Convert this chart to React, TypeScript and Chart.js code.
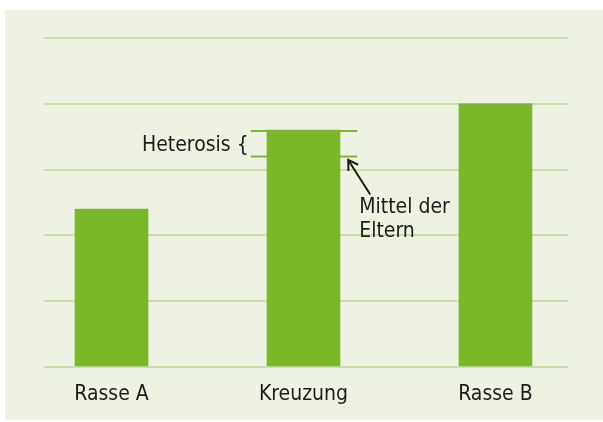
import React, { useEffect, useRef } from "react";
import { Chart, registerables } from "chart.js";

Chart.register(...registerables);

const categories = ["Rasse A", "Kreuzung", "Rasse B"];
const values = [2.4, 3.6, 4.0];
const parentMean = 3.2; // Mittel der Eltern
const yTicks = [0, 1, 2, 3, 4, 5];
const heterosisLabel = "Heterosis {";
const meanLabel = ["Mittel der", "Eltern"];

const FONT = "'Liberation Sans Narrow', 'DejaVu Sans Condensed', sans-serif";
const FS = 21;
const BAR = "#78b82a";
const GRID = "#c9dea8";
const PANEL = "#edf2e3";
const TEXT = "#1c1c1c";

export default function App() {
  const ref = useRef<HTMLCanvasElement | null>(null);

  useEffect(() => {
    if (!ref.current) return;
    const annot = {
      id: "annot",
      beforeDraw(chart: any) {
        const c = chart.ctx;
        c.save();
        c.fillStyle = PANEL;
        c.fillRect(5, 10, chart.width - 5, chart.height - 12);
        c.restore();
      },
      afterDatasetsDraw(chart: any) {
        const c = chart.ctx;
        const xs = chart.scales.x;
        const ys = chart.scales.y;
        const x0 = xs.getPixelForValue(1 - 0.275);
        const x1 = xs.getPixelForValue(1 + 0.28);
        const yTop = ys.getPixelForValue(values[1]);
        const yMid = ys.getPixelForValue(parentMean);
        c.save();
        c.strokeStyle = BAR;
        c.lineWidth = 2;
        c.beginPath();
        c.moveTo(x0, yTop + 1);
        c.lineTo(x1, yTop + 1);
        c.moveTo(x0, yMid);
        c.lineTo(x1, yMid);
        c.stroke();
        // text
        c.fillStyle = TEXT;
        c.font = `${FS}px ${FONT}`;
        c.textAlign = "right";
        c.textBaseline = "alphabetic";
        c.fillText(heterosisLabel, x0 - 2, (yTop + yMid) / 2 + 7.5);
        c.textAlign = "left";
        c.fillText(meanLabel[0], x1 + 2, yMid + 57);
        c.fillText(meanLabel[1], x1 + 2, yMid + 81);
        // arrow
        const tipX = x1 - 9, tipY = yMid + 3.5;
        const tailX = x1 + 13, tailY = yMid + 38;
        c.strokeStyle = TEXT;
        c.lineWidth = 2;
        c.beginPath();
        c.moveTo(tailX, tailY);
        c.lineTo(tipX, tipY);
        const ang = Math.atan2(tailY - tipY, tailX - tipX);
        const L = 11, spread = 0.55;
        c.moveTo(tipX + L * Math.cos(ang - spread), tipY + L * Math.sin(ang - spread));
        c.lineTo(tipX, tipY);
        c.lineTo(tipX + L * Math.cos(ang + spread), tipY + L * Math.sin(ang + spread));
        c.stroke();
        c.restore();
      },
    };

    const chart = new Chart(ref.current, {
      type: "bar",
      data: {
        datasets: [
          {
            data: values.map((v, i) => ({ x: i, y: v })),
            backgroundColor: BAR,
            borderWidth: 0,
            barThickness: 73,
          },
        ],
      },
      options: {
        animation: false,
        responsive: false,
        events: [],
        layout: { padding: { left: 44, right: 35, top: 38, bottom: 0 } },
        plugins: { legend: { display: false }, tooltip: { enabled: false } },
        scales: {
          x: {
            type: "linear",
            offset: false,
            min: -0.3516,
            max: 2.378,
            grid: { display: false, drawTicks: false, offset: false },
            border: { display: false },
            afterBuildTicks: (axis: any) => {
              axis.ticks = categories.map((_, i) => ({ value: i }));
            },
            afterFit: (axis: any) => {
              axis.height = 55;
            },
            ticks: {
              autoSkip: false,
              maxRotation: 0,
              padding: 15,
              color: TEXT,
              font: { family: FONT, size: FS },
              callback: (v: any) => categories[Number(v)] ?? "",
            },
          },
          y: {
            min: yTicks[0],
            max: yTicks[yTicks.length - 1],
            afterBuildTicks: (axis: any) => {
              axis.ticks = yTicks.map((v) => ({ value: v }));
            },
            afterFit: (axis: any) => {
              axis.width = 0;
            },
            grid: { color: GRID, lineWidth: 2, drawTicks: false },
            border: { display: false },
            ticks: { display: false },
          },
        },
      },
      plugins: [annot],
    });
    return () => chart.destroy();
  }, []);

  return (
    <div style={{ position: "fixed", left: 0, top: 0, width: 603, height: 422, background: "#fff" }}>
      <canvas ref={ref} width={603} height={422} style={{ width: 603, height: 422, display: "block" }} />
    </div>
  );
}
